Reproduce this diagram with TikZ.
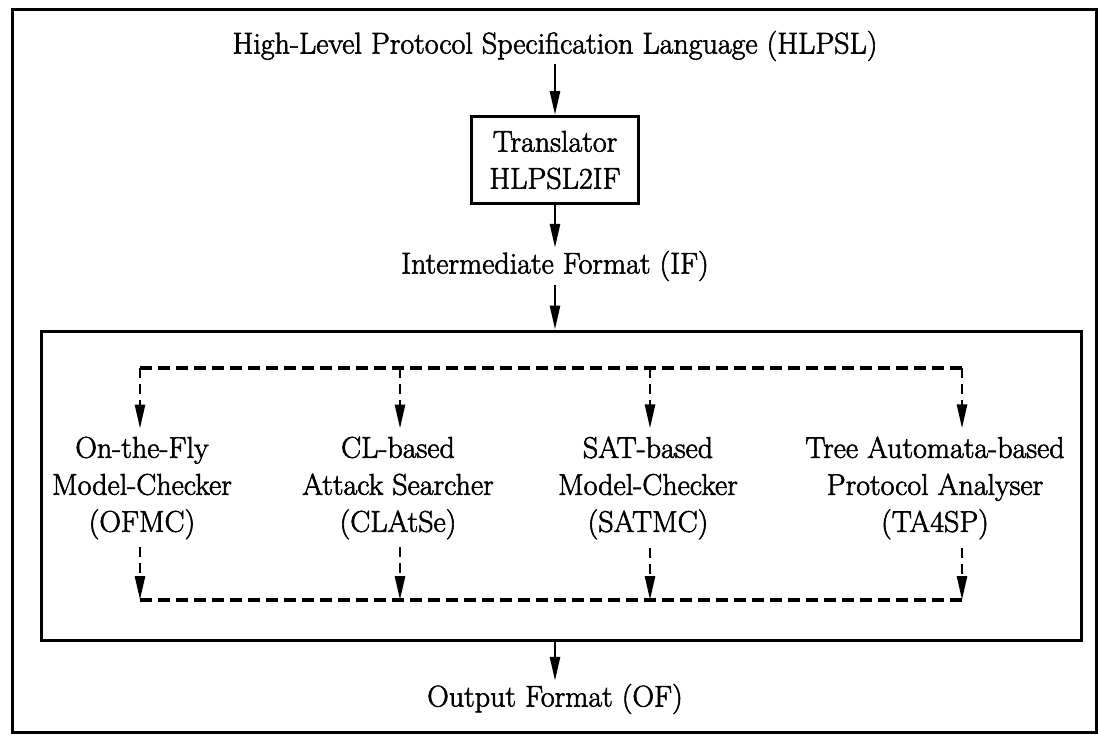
\documentclass[tikz,border=0pt]{standalone}
\usepackage{fontspec}
\setmainfont{Latin Modern Roman}[FakeBold=2]
\usetikzlibrary{arrows.meta,calc}
\begin{document}
\begin{tikzpicture}[x=1pt,y=-1pt,
  every node/.style={font=\fontsize{30}{37}\selectfont},
  txt/.style={inner sep=0pt, align=center},
  col/.style={inner xsep=0pt, inner ysep=8pt, align=center},
  frame/.style={draw, line width=3pt},
  tip/.style={-{Triangle[length=24pt,width=10pt]}},
  solidarr/.style={line width=2.6pt, tip},
  dline/.style={line width=3.2pt, dash pattern=on 12pt off 6pt},
  darr/.style={line width=2.6pt, dash pattern=on 10pt off 6pt, tip},
]
\useasboundingbox (0,0) rectangle (1098,734);
\draw[line width=3pt] (12,9) rectangle (1096,732);

\node[txt] (hlpsl) at (555,46) {High-Level Protocol Specification Language (HLPSL)};
\node[frame, minimum width=167pt, minimum height=87pt, align=center, inner sep=0pt] (trans) at (555,160) {Translator\\HLPSL2IF};
\node[txt] (if) at (555,266) {Intermediate Format (IF)};
\node[frame, minimum width=1040pt, minimum height=309pt, inner sep=0pt] (engines) at (561,485.5) {};
\node[txt] (of) at (555,699) {Output Format (OF)};

\node[col] (c1) at (142,488) {On-the-Fly\\Model-Checker\\(OFMC)};
\node[col] (c2) at (398,488) {CL-based\\Attack Searcher\\(CLAtSe)};
\node[col] (c3) at (648,488) {SAT-based\\Model-Checker\\(SATMC)};
\node[col] (c4) at (935,488) {Tree Automata-based\\Protocol Analyser\\(TA4SP)};

\coordinate (t1) at (140,368);
\coordinate (t2) at (400,368);
\coordinate (t3) at (650,368);
\coordinate (t4) at (962,368);
\coordinate (b1) at (140,600);
\coordinate (b2) at (400,600);
\coordinate (b3) at (650,600);
\coordinate (b4) at (962,600);

\draw[solidarr] ([yshift=-3pt]hlpsl.south) -- (trans.north);
\draw[solidarr] (trans.south) -- ([yshift=3pt]if.north);
\draw[solidarr] ([yshift=-4pt]if.south) -- (engines.north -| if.south);
\draw[solidarr] (engines.south -| of.north) -- ([yshift=3pt]of.north);

\draw[dline] (t1) -- (t4);
\draw[dline] (b1) -- (b4);
\draw[darr] (t1) -- (t1 |- c1.north);
\draw[darr] (t2) -- (t2 |- c2.north);
\draw[darr] (t3) -- (t3 |- c3.north);
\draw[darr] (t4) -- (t4 |- c4.north);
\draw[darr] (b1 |- c1.south) -- (b1);
\draw[darr] (b2 |- c2.south) -- (b2);
\draw[darr] (b3 |- c3.south) -- (b3);
\draw[darr] (b4 |- c4.south) -- (b4);
\end{tikzpicture}
\end{document}
